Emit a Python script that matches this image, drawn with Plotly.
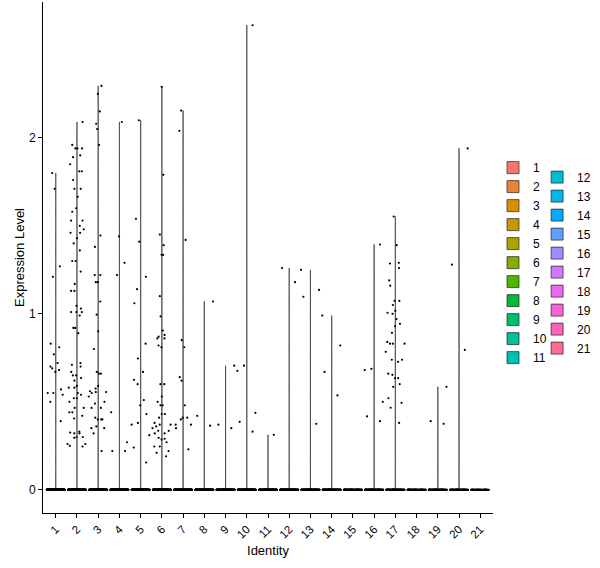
import math
import plotly.graph_objects as go

# Cluster identities
identities = [str(i) for i in range(1, 22)]

# Non-zero expression values per cluster
c1 = [1.80, 1.71, 1.27, 1.21, 0.83, 0.81, 0.77, 0.72, 0.70, 0.69, 0.68, 0.67,
      0.57, 0.55, 0.55, 0.54, 0.50, 0.39]
c2 = [2.09, 1.96, 1.94, 1.94, 1.94, 1.90, 1.89, 1.85, 1.81, 1.81, 1.76, 1.71,
      1.71, 1.665, 1.60, 1.58, 1.53, 1.53, 1.50, 1.48, 1.46, 1.46, 1.43, 1.40,
      1.36, 1.30, 1.30, 1.24, 1.17, 1.13, 1.13, 1.045, 1.03, 1.01, 1.01, 1.01,
      0.99, 0.92, 0.92, 0.89, 0.72, 0.70, 0.71, 0.67, 0.65, 0.65, 0.635, 0.62,
      0.59, 0.58, 0.58, 0.55, 0.54, 0.52, 0.52, 0.50, 0.465, 0.465, 0.44, 0.44,
      0.42, 0.405, 0.33, 0.325, 0.32, 0.32, 0.30, 0.30, 0.295, 0.26, 0.26, 0.25,
      0.246]
c3 = [2.295, 2.25, 2.15, 2.08, 2.05, 1.96, 1.445, 1.38, 1.22, 1.22, 1.18, 1.18,
      1.07, 0.995, 0.90, 0.80, 0.67, 0.66, 0.66, 0.59, 0.575, 0.56, 0.555, 0.555,
      0.55, 0.53, 0.50, 0.49, 0.465, 0.465, 0.41, 0.40, 0.40, 0.40, 0.36, 0.35,
      0.35, 0.32, 0.22]
c4 = [2.09, 1.44, 1.29, 1.22, 0.44, 0.27, 0.22, 0.22]
c5 = [2.10, 1.54, 1.41, 1.21, 1.14, 1.06, 0.83, 0.746, 0.67, 0.625, 0.60, 0.51,
      0.48, 0.43, 0.38, 0.37, 0.31, 0.24, 0.155]
c6 = [2.29, 1.79, 1.45, 1.39, 1.335, 1.335, 1.10, 0.985, 0.905, 0.88, 0.87, 0.86,
      0.86, 0.82, 0.81, 0.60, 0.60, 0.53, 0.50, 0.48, 0.48, 0.43, 0.43, 0.41,
      0.38, 0.37, 0.37, 0.36, 0.35, 0.335, 0.335, 0.32, 0.32, 0.295, 0.285, 0.29,
      0.27, 0.246, 0.246, 0.22, 0.21, 0.19]
c7 = [2.155, 2.04, 1.42, 0.85, 0.81, 0.64, 0.62, 0.48, 0.41, 0.41, 0.40, 0.37,
      0.37, 0.35, 0.23]
c8 = [1.07, 0.42, 0.364]
c9 = [0.705, 0.37, 0.35]
c10 = [2.64, 0.705, 0.676, 0.4375, 0.386, 0.33]
c11 = [0.3125]
c12 = [1.26, 1.18]
c13 = [1.25, 1.136, 1.097, 0.375]
c14 = [0.99, 0.82, 0.67, 0.536]
c15 = []
c16 = [1.394, 0.6875, 0.68, 0.50, 0.417, 0.39]
c17 = [1.553, 1.39, 1.29, 1.286, 1.26, 1.19, 1.16, 1.074, 1.074, 1.05, 1.017,
       1.0, 1.006, 0.97, 0.943, 0.93, 0.892, 0.83, 0.84, 0.83, 0.83, 0.784,
       0.727, 0.739, 0.739, 0.66, 0.653, 0.634, 0.634, 0.60, 0.585, 0.52, 0.494,
       0.466, 0.38]
c18 = []
c19 = [0.585, 0.39, 0.375]
c20 = [1.94, 1.28, 0.795]
c21 = []

# Number of cells with zero expression in each cluster (estimated)
zero_counts = [310, 290, 270, 250, 240, 225, 210, 200, 190, 180, 170,
               160, 150, 140, 130, 120, 110, 100, 90, 80, 70]

nonzero = [c1, c2, c3, c4, c5, c6, c7, c8, c9, c10, c11,
           c12, c13, c14, c15, c16, c17, c18, c19, c20, c21]


def hue_color(h, c=100, l=65):
    # ggplot2 default hue palette (polar Luv -> sRGB)
    xn, yn, zn = 95.047, 100.0, 108.883
    un = 4 * xn / (xn + 15 * yn + 3 * zn)
    vn = 9 * yn / (xn + 15 * yn + 3 * zn)
    u = c * math.cos(math.radians(h))
    v = c * math.sin(math.radians(h))
    y = yn * ((l + 16) / 116) ** 3
    up = u / (13 * l) + un
    vp = v / (13 * l) + vn
    x = 9 * y * up / (4 * vp)
    z = -x / 3 - 5 * y + 3 * y / vp
    x, y, z = x / 100, y / 100, z / 100
    rgb = [3.240479 * x - 1.537150 * y - 0.498535 * z,
           -0.969256 * x + 1.875992 * y + 0.041556 * z,
           0.055648 * x - 0.204043 * y + 1.057311 * z]
    out = []
    for ch in rgb:
        ch = 12.92 * ch if ch <= 0.0031308 else 1.055 * ch ** (1 / 2.4) - 0.055
        out.append(int(round(min(max(ch, 0), 1) * 255)))
    return "#%02X%02X%02X" % tuple(out)


n = len(identities)
colors = [hue_color(15 + 360 / n * i) for i in range(n)]

font = "Liberation Sans, Arial, sans-serif"
fig = go.Figure()

for i, ident in enumerate(identities):
    vals = [0.0] * zero_counts[i] + nonzero[i]
    span_opts = dict(spanmode="hard")
    if not nonzero[i]:
        # all cells at zero: keep a flat violin at 0
        span_opts = dict(spanmode="manual", span=[0, 0.001])
    # violin outline (colour fill + legend key)
    fig.add_trace(go.Violin(
        x=[ident] * len(vals), y=vals, name=ident,
        points=False, bandwidth=0.003,
        scalemode="width", width=0.9,
        line=dict(color="#222222", width=0.7),
        fillcolor=colors[i], opacity=1,
        legend="legend" if i < 11 else "legend2",
        hoverinfo="skip", **span_opts,
    ))

for i, ident in enumerate(identities):
    # jittered points at zero
    fig.add_trace(go.Box(
        x=[ident] * zero_counts[i], y=[0.0] * zero_counts[i],
        boxpoints="all", jitter=1, pointpos=0, width=0.85,
        line=dict(width=0, color="rgba(0,0,0,0)"),
        fillcolor="rgba(0,0,0,0)",
        marker=dict(color="black", size=2.2),
        showlegend=False, hoverinfo="skip",
    ))
    if nonzero[i]:
        fig.add_trace(go.Box(
            x=[ident] * len(nonzero[i]), y=nonzero[i],
            boxpoints="all", jitter=1, pointpos=0, width=1.05,
            line=dict(width=0, color="rgba(0,0,0,0)"),
            fillcolor="rgba(0,0,0,0)",
            marker=dict(color="black", size=2.2),
            showlegend=False, hoverinfo="skip",
        ))

legend_style = dict(
    font=dict(family=font, size=12, color="black"),
    bgcolor="rgba(0,0,0,0)", yanchor="middle", y=0.49,
    xanchor="left", traceorder="normal", itemclick=False,
)

fig.update_layout(
    width=600, height=568,
    margin=dict(l=43, r=107, t=2, b=55, autoexpand=False),
    plot_bgcolor="white", paper_bgcolor="white",
    font=dict(family=font, size=12, color="black"),
    violinmode="overlay", boxmode="overlay",
    legend=dict(x=1.0, **legend_style),
    legend2=dict(x=1.098, **legend_style),
    xaxis=dict(
        title=dict(text="Identity", font=dict(size=13), standoff=6),
        categoryorder="array", categoryarray=identities,
        range=[-0.6, 20.6], automargin=False,
        showline=True, linecolor="black", linewidth=1,
        ticks="outside", ticklen=4, tickcolor="black", tickangle=-45,
        tickfont=dict(size=11.5, color="black"),
        showgrid=False, zeroline=False,
    ),
    yaxis=dict(
        title=dict(text="Expression Level", font=dict(size=13), standoff=1),
        range=[-0.132, 2.772], tickvals=[0, 1, 2], automargin=False,
        showline=True, linecolor="black", linewidth=1,
        ticks="outside", ticklen=4, tickcolor="black",
        tickfont=dict(size=12, color="black"),
        showgrid=False, zeroline=False,
    ),
)

# drop the page's default body margin so the figure sits at the window origin
fig.write_html("out.html", config={"displayModeBar": False},
               post_script="document.body.style.margin = '0';")
